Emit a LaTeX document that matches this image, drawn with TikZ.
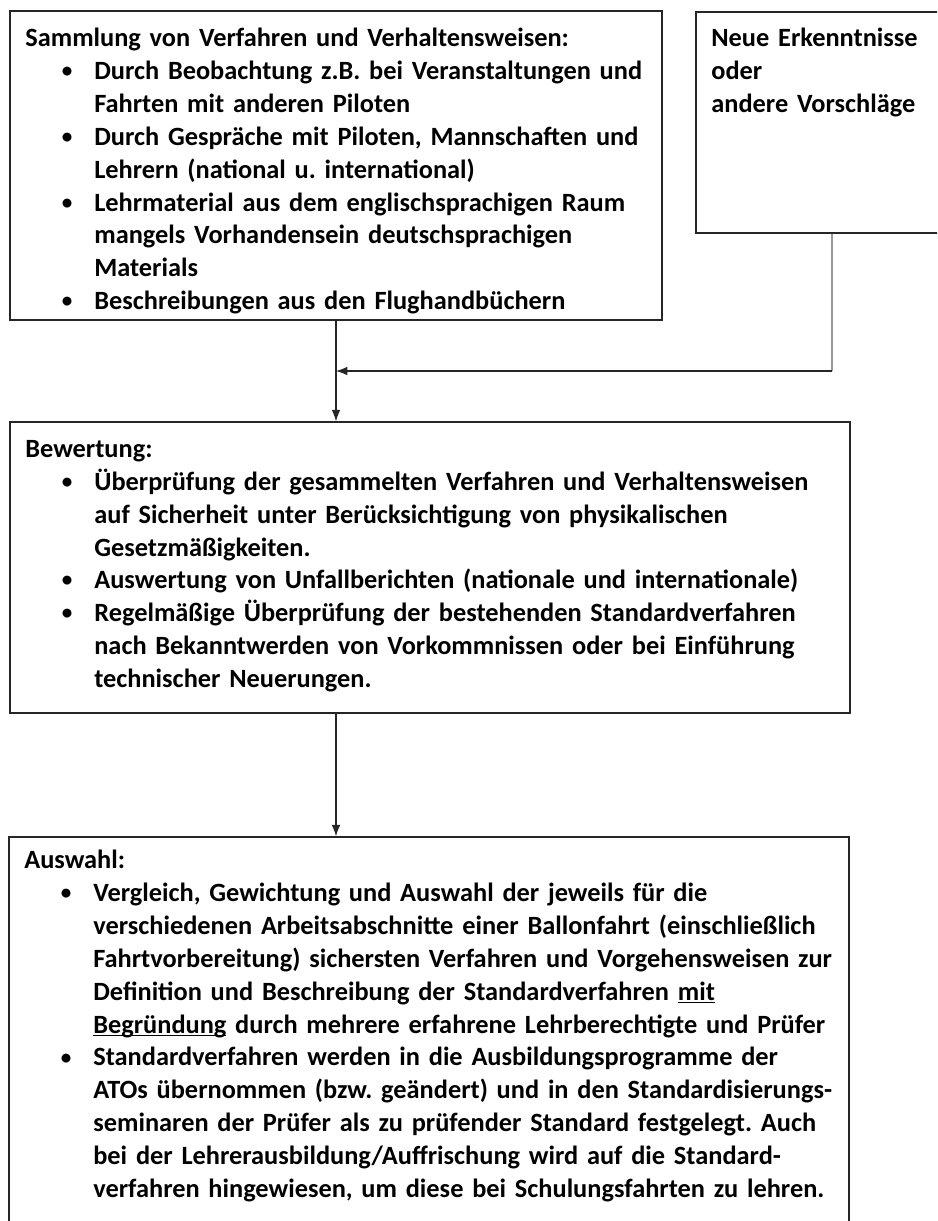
\documentclass[tikz,border=0pt]{standalone}
\usepackage{fontspec}
\setmainfont{Carlito}
\usetikzlibrary{arrows.meta,fit}
\definecolor{Ink}{HTML}{000000}
\definecolor{Frame}{HTML}{262626}
\definecolor{Feed}{HTML}{9A9A9A}
\newlength{\itemind}\setlength{\itemind}{1.38cm}
\newlength{\bulgap}\setlength{\bulgap}{0.44cm}
\newcommand{\bul}{\par\hangindent=\itemind\hangafter=0
  \noindent\llap{\raisebox{0.15ex}{\fontsize{12}{12}\selectfont\textbullet}\hspace{\bulgap}}}
\newcommand{\uln}[1]{\underline{\smash{#1}}}
\tikzset{panel/.style={draw=Frame,line width=0.85pt,inner sep=0pt},
  txt/.style={anchor=north west,inner sep=0pt,text=Ink,
    font=\fontsize{15}{18.7}\selectfont\bfseries,
    execute at begin node={\raggedright\parindent=0pt\frenchspacing}},
  edge/.style={-{Latex[length=6.5pt,width=5pt]},line width=0.6pt,draw=Frame},
  feed/.style={line width=0.6pt,draw=Feed}}

\begin{document}
\begin{tikzpicture}[x=0.02cm,y=-0.02cm]
    \useasboundingbox (0,0) rectangle (937,1221);
    \clip (0,0) rectangle (937,1221);
    % boxes
    \node[panel,fit={(10,11) (662,320)}] (collect) {};
    \node[panel,fit={(696,12) (968,233)}] (ideas) {};
    \node[panel,fit={(10,422) (850,713)}] (rate) {};
    \node[panel,fit={(9,837) (849,1260)}] (select) {};
    % texts
    \node[txt,text width=12.8cm] (collecttxt) at (25,28)
      {Sammlung von Verfahren und Verhaltensweisen:
      \bul Durch Beobachtung z.B. bei Veranstaltungen und\newline Fahrten mit anderen Piloten
      \bul Durch Gespräche mit Piloten, Mannschaften und\newline Lehrern (national u. international)
      \bul Lehrmaterial aus dem englischsprachigen Raum\newline mangels Vorhandensein deutschsprachigen\newline Materials
      \bul Beschreibungen aus den Flughandbüchern\par};
    \node[txt,text width=4.6cm] (ideastxt) at (711,28)
      {Neue Erkenntnisse\newline oder\newline andere Vorschläge\par};
    \node[txt,text width=16.4cm] (ratetxt) at (25,440)
      {Bewertung:
      \bul Überprüfung der gesammelten Verfahren und Verhaltensweisen\newline auf Sicherheit unter Berücksichtigung von physikalischen\newline Gesetzmäßigkeiten.
      \bul Auswertung von Unfallberichten (nationale und internationale)
      \bul Regelmäßige Überprüfung der bestehenden Standardverfahren\newline nach Bekanntwerden von Vorkommnissen oder bei Einführung\newline technischer Neuerungen.\par};
    \node[txt,text width=16.4cm] (selecttxt) at (24,850)
      {Auswahl:
      \bul Vergleich, Gewichtung und Auswahl der jeweils für die\newline verschiedenen Arbeitsabschnitte einer Ballonfahrt (einschließlich\newline Fahrtvorbereitung) sichersten Verfahren und Vorgehensweisen zur\newline Definition und Beschreibung der Standardverfahren \uln{mit}\newline \uln{Begründung} durch mehrere erfahrene Lehrberechtigte und Prüfer
      \bul Standardverfahren werden in die Ausbildungsprogramme der\newline ATOs übernommen (bzw. geändert) und in den Standardisierungs-\newline seminaren der Prüfer als zu prüfender Standard festgelegt. Auch\newline bei der Lehrerausbildung/Auffrischung wird auf die Standard-\newline verfahren hingewiesen, um diese bei Schulungsfahrten zu lehren.\par};
    % connectors
    \coordinate (join) at (336,371);
    \draw[feed] (ideas.south) -- (ideas.south |- join);
    \draw[edge] (ideas.south |- join) -- (join);
    \draw[edge] (collect.south) -- (collect.south |- rate.north);
    \draw[edge] (collect.south |- rate.south) -- (collect.south |- select.north);
  \end{tikzpicture}
\end{document}
